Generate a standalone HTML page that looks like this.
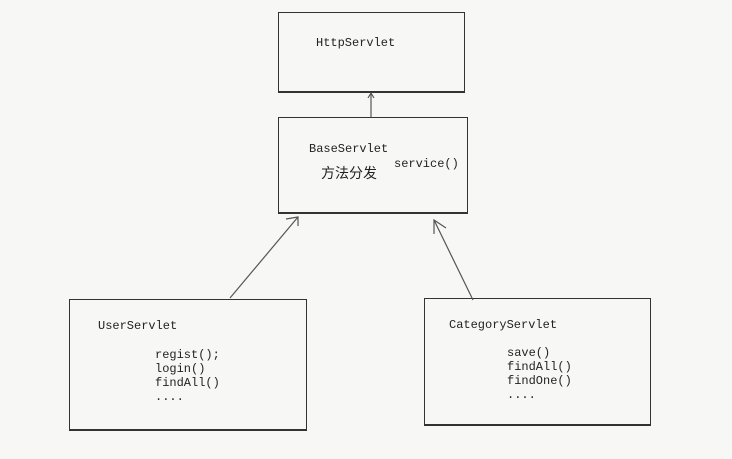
<!DOCTYPE html>
<html><head><meta charset="utf-8"><style>
html,body{margin:0;padding:0;background:#f7f8f6;}
body{width:732px;height:459px;position:relative;overflow:hidden;font-family:"Liberation Mono","Noto Sans CJK SC",monospace;font-size:12px;color:#222;}
.b{position:absolute;border:1px solid #333;box-sizing:border-box;}
.t{position:absolute;white-space:pre;line-height:14px;}
</style></head><body>
<div class="b" style="left:278px;top:12px;width:187px;height:81px;border-width:1px 1px 2px 1px"></div>
<div class="b" style="left:278px;top:117px;width:190px;height:97px;border-width:1px 1px 2px 1px"></div>
<div class="b" style="left:69px;top:299px;width:238px;height:132px;border-width:1px 1px 2px 1px"></div>
<div class="b" style="left:424px;top:298px;width:227px;height:128px;border-width:1px 1px 2px 1px"></div>
<div class="t" style="left:316px;top:36px">HttpServlet</div>
<div class="t" style="left:309px;top:142px">BaseServlet</div>
<div class="t" style="left:394px;top:157px">service()</div>
<div class="t" style="left:321px;top:166px;font-size:14px;font-family:'Noto Sans CJK SC',sans-serif">方法分发</div>
<div class="t" style="left:98px;top:319px">UserServlet</div>
<div class="t" style="left:155px;top:348px">regist();
login()
findAll()
....</div>
<div class="t" style="left:449px;top:318px">CategoryServlet</div>
<div class="t" style="left:507px;top:346px">save()
findAll()
findOne()
....</div>
<svg width="732" height="459" style="position:absolute;left:0;top:0" fill="none" stroke="#555" stroke-width="1.2">
<line x1="371" y1="117" x2="371" y2="93"/>
<polyline points="368,98 371,93 374,98"/>
<line x1="230" y1="298" x2="298" y2="217"/>
<polyline points="286,219 298,217 298,226"/>
<line x1="473" y1="300" x2="434" y2="220"/>
<polyline points="434,234 434,220 446,228"/>
</svg>
</body></html>
